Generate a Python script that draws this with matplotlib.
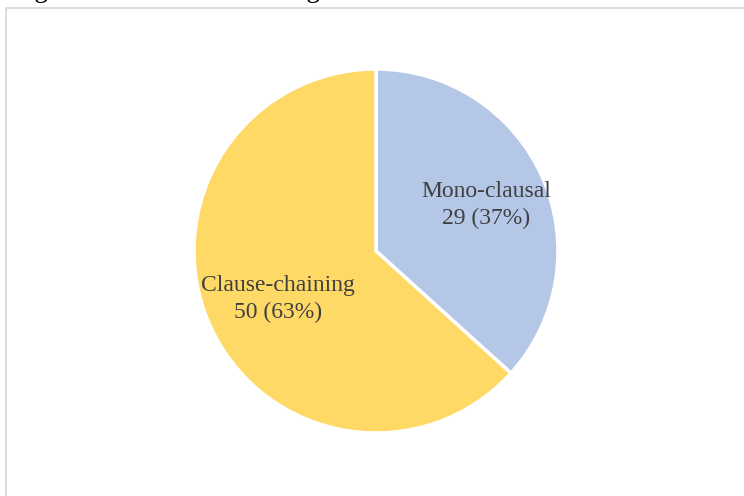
import matplotlib.pyplot as plt
from matplotlib.patches import Rectangle

clause_types = ["Mono-clausal", "Clause-chaining"]
counts = [29, 50]
slice_colors = ["#B4C7E7", "#FFD966"]
caption = "Figure 5.3: Structural configuration of non-canonical clauses"

W, H = 744, 496
fig = plt.figure(figsize=(W / 100, H / 100), dpi=100)

# chart area border
fig.add_artist(Rectangle((6 / W, -0.1), 1.2, 1.1 - 8 / H, transform=fig.transFigure,
                         fill=False, edgecolor="#D9D9D9", linewidth=1.3))

# caption line sitting just above the visible area
fig.text(12 / W, 1 + 2.5 / H, caption, fontsize=19.5, family="Liberation Serif",
         color="black", va="baseline", ha="left")

cx, cy, r = 376, 251, 182
ax = fig.add_axes([(cx - r) / W, (H - cy - r) / H, 2 * r / W, 2 * r / H])

total = sum(counts)
labels = ["%s\n%d (%d%%)" % (name, n, round(100 * n / total)) for name, n in zip(clause_types, counts)]

wedges, texts = ax.pie(counts, labels=labels, colors=slice_colors, startangle=90,
                       counterclock=False, labeldistance=1.0,
                       wedgeprops={"edgecolor": "white", "linewidth": 2.5},
                       textprops={"fontsize": 17, "family": "Liberation Serif",
                                  "color": "#404040", "linespacing": 1.4})
# pull each label in towards the centre
for t, k, dy in zip(texts, [0.66, 0.59], [-0.015, -0.025]):
    x, y = t.get_position()
    t.set_position((x * k, y * k + dy))
    t.set_ha("center")
    t.set_va("center")

ax.set_xlim(-1, 1)
ax.set_ylim(-1, 1)
ax.set_aspect("equal")
ax.axis("off")

plt.savefig("out.png", dpi=100)
